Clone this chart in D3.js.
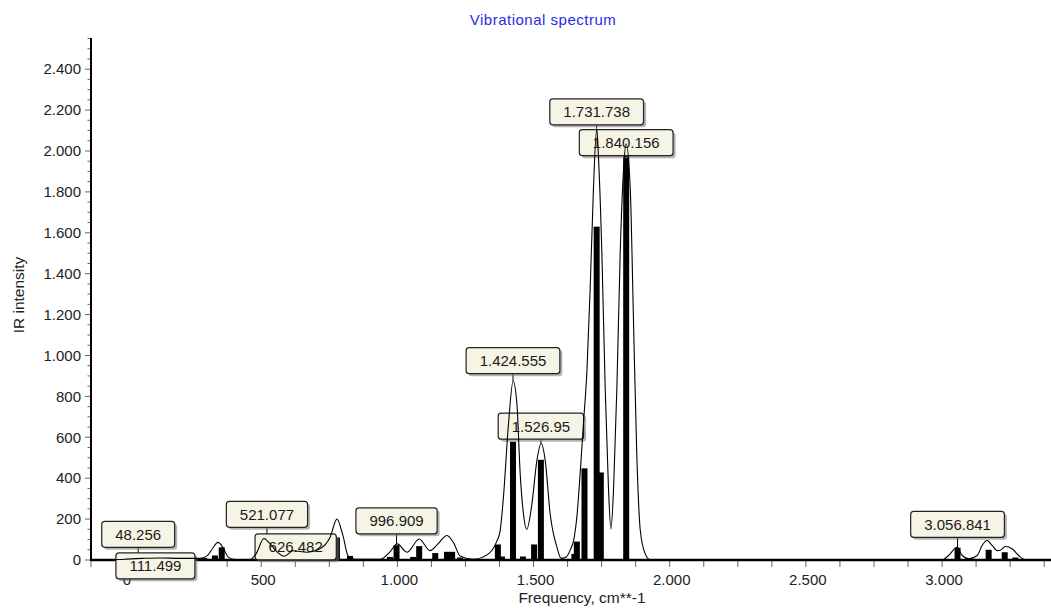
<!DOCTYPE html>
<html>
<head>
<meta charset="utf-8">
<script src="https://cdn.jsdelivr.net/npm/d3@7"></script>
<style>
  body { margin: 0; background: #fff; }
  text { font-family: "Liberation Sans", Arial, sans-serif; }
</style>
</head>
<body>
<svg id="chart" width="1051" height="608"></svg>
<script>
// stick spectrum (frequency, IR intensity)
var stickFreq = [48.256, 111.499, 291, 330, 355, 521.077, 626.482, 778, 826, 973, 996.909, 1058, 1080, 1139, 1182, 1201, 1230,
  1369, 1384, 1424.555, 1461, 1502, 1526.95, 1650, 1659, 1687, 1731.738, 1747, 1840.156, 3056.841, 3171, 3230, 3269];
var stickInt = [3, 5, 10, 22, 62, 50, 25, 110, 20, 15, 72, 15, 68, 34, 40, 40, 12,
  76, 17, 578, 17, 76, 490, 30, 90, 448, 1630, 428, 1990, 60, 50, 38, 12];

// broadened envelope
var envFreq = [-100, -55, 0, 66, 128, 202, 275, 301, 323, 341, 360, 378, 404, 459, 481, 510, 532, 562, 584, 617, 668, 716, 753, 778, 800, 819, 845,
  936, 973, 999, 1036, 1080, 1120, 1150, 1182, 1208, 1230, 1278, 1329, 1366, 1377, 1389, 1408, 1425, 1439, 1451, 1463, 1475, 1494, 1512, 1528,
  1543, 1561, 1586, 1601, 1620, 1635, 1647, 1659, 1671, 1683, 1696, 1708, 1720, 1732, 1738, 1751, 1763, 1775, 1784, 1794, 1806, 1818, 1830,
  1840, 1855, 1867, 1879, 1892, 1910, 1928, 1965, 3000, 3024, 3055, 3074, 3098, 3129, 3147, 3165, 3184, 3202, 3214, 3232, 3257, 3281, 3306, 3400];
var envInt = [0, 0, 4, 8, 10, 8, 8, 20, 60, 86, 60, 15, 2, 2, 30, 105, 80, 35, 18, 45, 38, 55, 111, 200, 120, 20, 3,
  3, 40, 79, 38, 103, 46, 80, 120, 80, 20, 4, 25, 95, 140, 300, 666, 875, 760, 420, 225, 150, 274, 485, 570,
  485, 225, 62, 8, 15, 50, 95, 210, 420, 664, 924, 1330, 1818, 2110, 1980, 1494, 843, 355, 152, 355, 843, 1494, 1900,
  2035, 1818, 1168, 518, 144, 30, 2, 0, 0, 22, 62, 22, 6, 22, 71, 95, 71, 46, 48, 66, 55, 22, 0, 0];

// peak labels
var labelFreq = [48.256, 111.499, 521.077, 626.482, 996.909, 1424.555, 1526.95, 1731.738, 1840.156, 3056.841];
var labelText = ["48.256", "111.499", "521.077", "626.482", "996.909", "1.424.555", "1.526.95", "1.731.738", "1.840.156", "3.056.841"];
var labelPeak = [8, 10, 105, 45, 79, 875, 570, 2110, 2035, 62];
var labelBoxAt = [62, -92, 160, 1, 128, 911, 591, 2128, 1977, 111];

var xTicks = [0, 500, 1000, 1500, 2000, 2500, 3000];
var yTicks = [0, 200, 400, 600, 800, 1000, 1200, 1400, 1600, 1800, 2000, 2200, 2400];

var svg = d3.select("#chart");
var loc = d3.formatLocale({ decimal: ",", thousands: ".", grouping: [3], currency: ["", ""] });
var fmt = loc.format(",d");

var x = d3.scaleLinear().domain([-125, 3400]).range([91, 1051]);
var y = d3.scaleLinear().domain([0, 2550]).range([560, 38.5]);

// title + axis names
svg.append("text")
  .attr("x", 543).attr("y", 25)
  .attr("text-anchor", "middle")
  .style("font-size", "15px").style("letter-spacing", "0.5px").style("fill", "#2a2ae6")
  .text("Vibrational spectrum");

svg.append("text")
  .attr("transform", "translate(24,295) rotate(-90)")
  .attr("text-anchor", "middle")
  .style("font-size", "15.5px").style("fill", "#222")
  .text("IR intensity");

svg.append("text")
  .attr("x", 582).attr("y", 603)
  .attr("text-anchor", "middle")
  .style("font-size", "15.5px").style("fill", "#222")
  .text("Frequency, cm**-1");

// minor ticks
var yMinor = d3.range(0, 2551, 50);
svg.append("g").selectAll("line")
  .data(yMinor).enter().append("line")
  .attr("x1", function(d) { return yTicks.indexOf(d) >= 0 ? 85 : 87.5; })
  .attr("x2", 91)
  .attr("y1", function(d) { return y(d); }).attr("y2", function(d) { return y(d); })
  .style("stroke", "#666").style("stroke-width", 1);

var xMinor = d3.range(-125, 3400, 125);
svg.append("g").selectAll("line")
  .data(xMinor).enter().append("line")
  .attr("x1", function(d) { return x(d); }).attr("x2", function(d) { return x(d); })
  .attr("y1", 561).attr("y2", 567)
  .style("stroke", "#666").style("stroke-width", 1);

// tick labels
svg.append("g").selectAll("text")
  .data(yTicks).enter().append("text")
  .attr("x", 81).attr("y", function(d) { return y(d); })
  .attr("dy", "0.35em")
  .attr("text-anchor", "end")
  .style("font-size", "15px").style("fill", "#222")
  .text(function(d) { return fmt(d); });

svg.append("g").selectAll("text")
  .data(xTicks).enter().append("text")
  .attr("x", function(d) { return x(d) + 2; }).attr("y", 580)
  .attr("dy", "0.35em")
  .attr("text-anchor", "middle")
  .style("font-size", "15px").style("fill", "#222")
  .text(function(d) { return fmt(d); });

// axis lines
svg.append("line").attr("x1", 91).attr("x2", 91).attr("y1", 38).attr("y2", 561)
  .style("stroke", "#000").style("stroke-width", 2);
svg.append("line").attr("x1", 90).attr("x2", 1051).attr("y1", 560).attr("y2", 560)
  .style("stroke", "#000").style("stroke-width", 2.5);

// sticks
svg.append("g").selectAll("rect")
  .data(stickFreq).enter().append("rect")
  .attr("x", function(d) { return x(d) - 3; })
  .attr("width", 6)
  .attr("y", function(d, i) { return y(stickInt[i]); })
  .attr("height", function(d, i) { return y(0) - y(stickInt[i]); })
  .style("fill", "#000");

// pointer lines from boxes down to peaks
svg.append("g").selectAll("line")
  .data(labelFreq).enter().append("line")
  .attr("x1", function(d) { return x(d); }).attr("x2", function(d) { return x(d); })
  .attr("y1", function(d, i) { return y(labelBoxAt[i]); })
  .attr("y2", function(d, i) { return Math.max(y(labelBoxAt[i]), y(labelPeak[i])); })
  .style("stroke", "#000").style("stroke-width", 1);

// label boxes
var boxes = svg.append("g").selectAll("g")
  .data(labelFreq).enter().append("g")
  .attr("transform", function(d, i) { return "translate(" + x(d) + "," + (y(labelBoxAt[i]) - 13) + ")"; });

boxes.append("text")
  .attr("text-anchor", "middle")
  .attr("dy", "0.36em")
  .style("font-size", "15px").style("fill", "#1a1a1a")
  .text(function(d, i) { return labelText[i]; });

boxes.each(function() {
  var g = d3.select(this);
  var w = g.select("text").node().getComputedTextLength() + 27;
  g.insert("rect", "text")
    .attr("x", -w / 2 + 2.5).attr("y", -13 + 2.5)
    .attr("width", w).attr("height", 26)
    .attr("rx", 3)
    .style("fill", "#777").style("opacity", 0.55);
  g.insert("rect", "text")
    .attr("x", -w / 2).attr("y", -13)
    .attr("width", w).attr("height", 26)
    .attr("rx", 3)
    .style("fill", "#f6f4e5").style("stroke", "#222").style("stroke-width", 1.2);
});

// envelope
var line = d3.line()
  .x(function(d) { return x(d); })
  .y(function(d, i) { return y(envInt[i]); })
  .curve(d3.curveMonotoneX);

svg.append("path")
  .datum(envFreq)
  .attr("d", line)
  .style("fill", "none").style("stroke", "#000").style("stroke-width", 1.1);
</script>
</body>
</html>
